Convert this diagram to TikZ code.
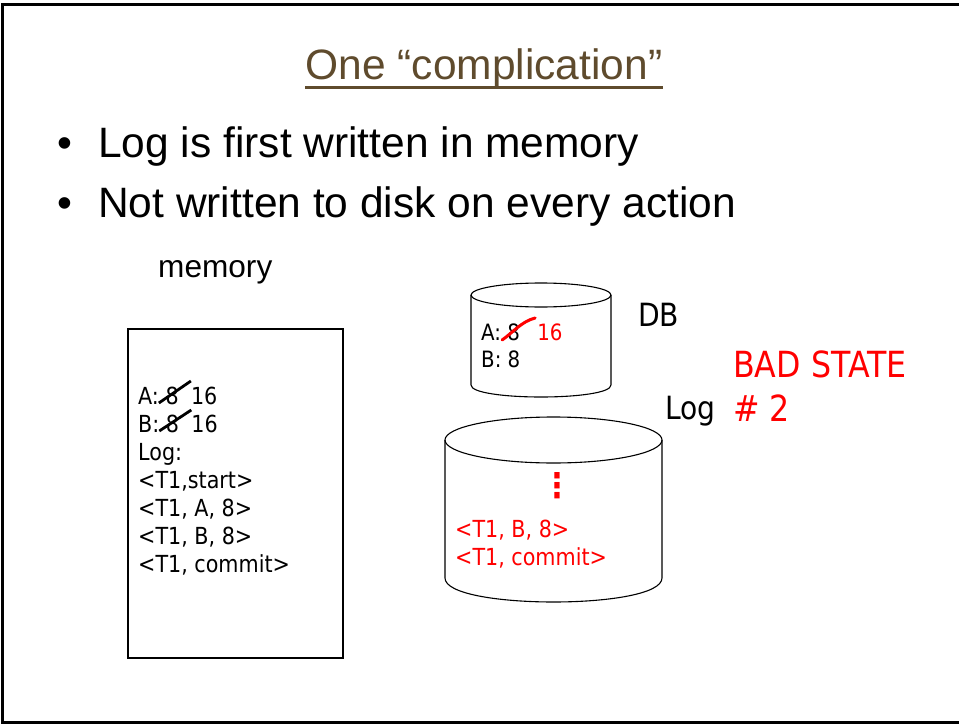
\documentclass[tikz,border=0pt]{standalone}
\usepackage{fontspec}
\setmainfont{Liberation Sans}
\newfontfamily\tahoma[FakeStretch=0.88]{DejaVu Sans}
\usetikzlibrary{positioning}
\definecolor{titlebrown}{RGB}{95,75,45}
\definecolor{badred}{RGB}{255,0,0}

\begin{document}
\begin{tikzpicture}[x=1pt,y=-1pt,
  txt/.style={inner sep=0pt,anchor=base west},
  big/.style={txt,font=\fontsize{42.5}{50}\selectfont},
  memtxt/.style={txt,font=\tahoma\fontsize{23.5}{28}\selectfont},
  dbtxt/.style={txt,font=\tahoma\fontsize{22.5}{26}\selectfont},
  label/.style={txt,font=\tahoma\fontsize{32}{38}\selectfont},
  alert/.style={txt,text=badred,font=\tahoma\fontsize{36}{42}\selectfont},
  strike/.style={draw=black,line width=2.8pt},
  swoosh/.style={draw=badred,line width=3pt,line cap=round}]
\useasboundingbox (0,0) rectangle (959,725);
% slide frame:
\path[draw=black,line width=3pt] (2,5) rectangle (966,722);
% title:
\node[big,anchor=base,text=titlebrown] (title) at (484,80) {One “complication”};
\path[draw=titlebrown,line width=3pt] ([yshift=-7.5pt]title.base west) -- ([yshift=-7.5pt]title.base east);
% bullets:
\node[big] (dot1) at (57,157) {•};
\node[big] (item1) at (98,157) {Log is first written in memory};
\node[big] (dot2) at (57,217) {•};
\node[big] (item2) at (98,217) {Not written to disk on every action};
% memory:
\node[txt,font=\fontsize{31.6}{38}\selectfont] (memlabel) at (158,277) {memory};
\path[draw=black,line width=1.1pt] (128,329) rectangle (343,658);
\node[memtxt] (memA) at (138,404) {A: 8};
\node[memtxt] (memAnew) at ([xshift=12pt]memA.base east) {16};
\node[memtxt] (memB) at (138,432) {B: 8};
\node[memtxt] (memBnew) at ([xshift=12pt]memB.base east) {16};
\node[memtxt] (memlog) at (138,460) {Log:};
\node[memtxt] (memrec1) at (138,488) {<T1,start>};
\node[memtxt] (memrec2) at (138,516) {<T1, A, 8>};
\node[memtxt] (memrec3) at (138,544) {<T1, B, 8>};
\node[memtxt] (memrec4) at (138,572) {<T1, commit>};
\path[strike] ([xshift=-20pt,yshift=1pt]memA.base east) -- ([xshift=12pt,yshift=23pt]memA.base east);
\path[strike] ([xshift=-20pt,yshift=1pt]memB.base east) -- ([xshift=12pt,yshift=22pt]memB.base east);
% DB disk:
\path[draw=black,line width=1.1pt] (541,295) ellipse [x radius=70, y radius=12];
\path[draw=black,line width=1.1pt] (471,295) -- (471,385) .. controls (471,401) and (611,401) .. (611,385) -- (611,295);
\node[dbtxt] (dbA) at (481,340) {A: 8};
\node[dbtxt,text=badred] (dbAnew) at ([xshift=17pt]dbA.base east) {16};
\node[dbtxt] (dbB) at (481,367) {B: 8};
\path[swoosh] ([xshift=-18pt]dbA.base east) .. controls ([xshift=-8pt,yshift=7pt]dbA.base east) and ([xshift=2pt,yshift=19pt]dbA.base east) .. ([xshift=15pt,yshift=22pt]dbA.base east);
\node[label] (dblabel) at (638,326) {DB};
% log disk:
\path[draw=black,line width=1.1pt] (553.5,440) ellipse [x radius=108.5, y radius=23];
\path[draw=black,line width=1.1pt] (445,440) -- (445,578) .. controls (445,610) and (662,610) .. (662,578) -- (662,440);
\node[inner sep=0pt,text=badred,font=\tahoma\bfseries\fontsize{34}{40}\selectfont] (logdots) at (557,486) {⋮};
\node[memtxt,text=badred] (logrec1) at (455,537) {<T1, B, 8>};
\node[memtxt,text=badred] (logrec2) at (455,565) {<T1, commit>};
\node[label] (loglabel) at (665,419) {Log};
% state:
\node[alert] (bad) at (733,377) {BAD STATE};
\node[alert] (badnum) at (733,421) {\# 2};
\end{tikzpicture}
\end{document}
